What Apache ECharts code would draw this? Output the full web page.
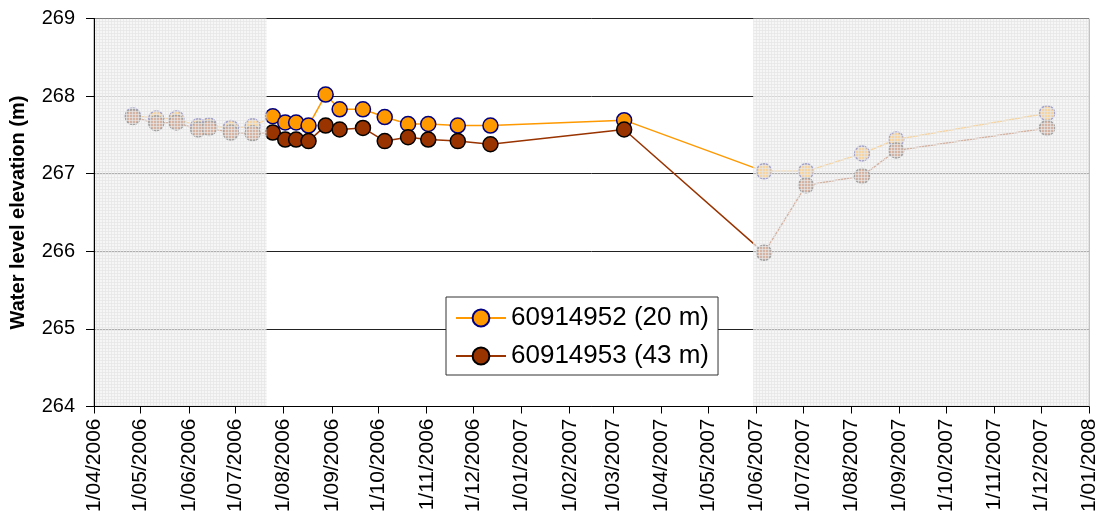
<!DOCTYPE html>
<html>
<head>
<meta charset="utf-8">
<script src="https://cdn.jsdelivr.net/npm/echarts@6/dist/echarts.min.js"></script>
<style>html,body{margin:0;padding:0;background:#fff}#c{width:1100px;height:516px}</style>
</head>
<body>
<div id="c"></div>
<script>
// ---- data ----
const sampleDates = ['2006-04-26','2006-05-11','2006-05-24','2006-06-07','2006-06-14','2006-06-28','2006-07-12',
  '2006-07-25','2006-08-02','2006-08-09','2006-08-17','2006-08-28','2006-09-06','2006-09-21','2006-10-05',
  '2006-10-20','2006-11-02','2006-11-21','2006-12-12','2007-03-08','2007-06-06','2007-07-03','2007-08-08',
  '2007-08-30','2007-12-05'];
const well20m = [267.75,267.71,267.71,267.61,267.62,267.59,267.61,
  267.74,267.66,267.66,267.62,268.02,267.83,267.83,267.73,
  267.64,267.64,267.62,267.62,267.69,267.03,267.03,267.26,
  267.44,267.78];
const well43m = [267.73,267.65,267.66,267.57,267.59,267.53,267.52,
  267.53,267.44,267.44,267.42,267.62,267.57,267.59,267.42,
  267.47,267.44,267.42,267.38,267.57,265.98,266.85,266.97,
  267.30,267.59];
const seriesNames = ['60914952 (20 m)','60914953 (43 m)'];
const xTickLabels = ['1/04/2006','1/05/2006','1/06/2006','1/07/2006','1/08/2006','1/09/2006','1/10/2006',
  '1/11/2006','1/12/2006','1/01/2007','1/02/2007','1/03/2007','1/04/2007','1/05/2007','1/06/2007',
  '1/07/2007','1/08/2007','1/09/2007','1/10/2007','1/11/2007','1/12/2007','1/01/2008'];
const yMin = 264, yMax = 269, yStep = 1;
const shadedPeriods = [['2006-04-01','2006-07-21'],['2007-05-30','2008-01-01']];
const yTitle = 'Water level elevation (m)';

// ---- helpers (dates -> day numbers) ----
const DAY = 86400000;
function isoToDay(s){ const p = s.split('-').map(Number); return Date.UTC(p[0], p[1]-1, p[2]) / DAY; }
function dmyToDay(s){ const p = s.split('/').map(Number); return Date.UTC(p[2], p[1]-1, p[0]) / DAY; }
const tickValues = xTickLabels.map(dmyToDay);
const d20 = sampleDates.map((d,i)=>[isoToDay(d), well20m[i]]);
const d43 = sampleDates.map((d,i)=>[isoToDay(d), well43m[i]]);

// texture for shaded periods
const cv = document.createElement('canvas'); cv.width = 3; cv.height = 3;
const cx = cv.getContext('2d');
cx.fillStyle = 'rgba(241,241,241,0.68)'; cx.fillRect(0,0,3,3);
cx.fillStyle = 'rgba(229,229,229,0.70)'; cx.fillRect(0,0,3,1); cx.fillRect(0,0,1,3);

const FONT = 'Liberation Sans, Arial, sans-serif';
const chart = echarts.init(document.getElementById('c'), null, {renderer:'canvas'});
chart.setOption({
  animation: false,
  backgroundColor: '#fff',
  grid: {left: 94, right: 11, top: 18.5, bottom: 109.5, show: true, borderColor: '#888', borderWidth: 1, backgroundColor: 'transparent'},
  legend: {
    data: seriesNames,
    orient: 'vertical', left: 446, top: 297,
    backgroundColor: '#fff', borderColor: '#333', borderWidth: 1,
    padding: [8, 9, 6, 9], itemGap: 12, itemWidth: 50, itemHeight: 21,
    textStyle: {fontFamily: FONT, fontSize: 26, color: '#000'}
  },
  xAxis: {
    type: 'value', min: tickValues[0], max: tickValues[tickValues.length-1], z: 10,
    axisLine: {lineStyle: {color: '#000', width: 1}},
    axisTick: {show: true, length: 7, inside: false, customValues: tickValues, lineStyle: {color: '#000'}},
    axisLabel: {customValues: tickValues, rotate: 90, margin: 12, fontFamily: FONT, fontSize: 21, color: '#000',
      formatter: v => { const i = tickValues.indexOf(v); return i >= 0 ? xTickLabels[i] : ''; }},
    splitLine: {show: false}
  },
  yAxis: [{
    type: 'value', min: yMin, max: yMax, interval: yStep, z: 10,
    name: yTitle, nameLocation: 'middle', nameGap: 66,
    nameTextStyle: {fontFamily: FONT, fontSize: 20, fontWeight: 'bold', color: '#000'},
    axisLine: {show: true, lineStyle: {color: '#000', width: 1}},
    axisTick: {show: true, length: 8, lineStyle: {color: '#000'}},
    axisLabel: {margin: 19, fontFamily: FONT, fontSize: 20, color: '#000'},
    splitLine: {show: false}
  },{
    type: 'value', min: yMin, max: yMax, interval: yStep, position: 'left', z: 0,
    axisLine: {show: false}, axisTick: {show: false}, axisLabel: {show: false},
    splitLine: {show: true, lineStyle: {width: 1, color: '#222'}}
  }],
  series: [
    {
      name: seriesNames[0], type: 'line', data: d20, z: 3,
      symbol: 'circle', symbolSize: 15,
      itemStyle: {color: '#FF9900', borderColor: '#000080', borderWidth: 1.5},
      lineStyle: {color: '#FF9900', width: 1.5}
    },
    {
      name: seriesNames[1], type: 'line', data: d43, z: 4,
      symbol: 'circle', symbolSize: 15,
      itemStyle: {color: '#993300', borderColor: '#000', borderWidth: 1.5},
      lineStyle: {color: '#993300', width: 1.5}
    },
    {
      name: 'shade', type: 'line', data: [], z: 6, silent: true,
      markArea: {
        silent: true, z: 8,
        itemStyle: {color: {image: cv, repeat: 'repeat'}},
        data: shadedPeriods.map(p => [{xAxis: isoToDay(p[0])}, {xAxis: isoToDay(p[1])}])
      }
    }
  ]
});
</script>
</body>
</html>
